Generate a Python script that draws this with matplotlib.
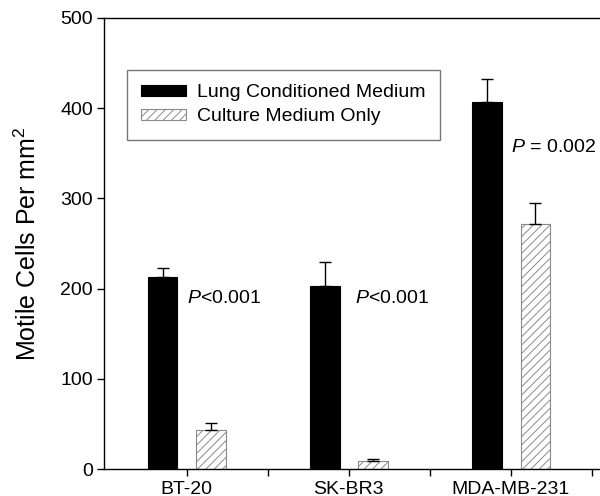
import numpy as np
import matplotlib
matplotlib.use("Agg")
import matplotlib.pyplot as plt

plt.rcParams['font.family'] = ['Liberation Sans', 'DejaVu Sans']
plt.rcParams['mathtext.fontset'] = 'custom'
plt.rcParams['mathtext.rm'] = 'Liberation Sans'
plt.rcParams['mathtext.it'] = 'Liberation Sans:italic'
plt.rcParams['hatch.color'] = '#8a8a8a'
plt.rcParams['hatch.linewidth'] = 0.7

lineas = ['BT-20', 'SK-BR3', 'MDA-MB-231']
pulmon = [213, 203, 407]
pulmon_err = [10, 27, 25]
cultivo = [43, 9, 272]
cultivo_err = [8, 2, 23]
p_textos = [r'$\it{P}$<0.001', r'$\it{P}$<0.001', r'$\it{P}$ = 0.002']
p_x = [0.5, 1.54, 2.5]
p_y = [189, 189, 356]

fig = plt.figure(figsize=(6, 4.96), dpi=100)
ax = fig.add_axes([104 / 600, 1 - 469 / 496, 496 / 600, 451 / 496])

x = np.arange(len(lineas)) + 0.5
ancho = 0.18
ax.bar(x - 0.147, pulmon, ancho, color='black', edgecolor='black', linewidth=0.8,
       label='Lung Conditioned Medium')
ax.bar(x + 0.15, cultivo, ancho, color='white', edgecolor='#8a8a8a', linewidth=0.8,
       hatch='////', label='Culture Medium Only')
ax.errorbar(x - 0.147, pulmon, yerr=[np.zeros(3), pulmon_err], fmt='none',
            ecolor='black', elinewidth=1, capsize=4, capthick=1)
ax.errorbar(x + 0.15, cultivo, yerr=[np.zeros(3), cultivo_err], fmt='none',
            ecolor='black', elinewidth=1, capsize=4, capthick=1)

for t, px, py in zip(p_textos, p_x, p_y):
    ax.text(px, py, t, fontsize=14, ha='left', va='center')

ax.set_xlim(-0.01, 3.05)
ax.set_ylim(0, 500)
ax.set_xticks(x)
ax.set_xticklabels(lineas, fontsize=14)
ax.set_xticks([1, 2, 3], minor=True)
ax.set_yticks([0, 100, 200, 300, 400, 500])
ax.tick_params(axis='both', which='both', direction='out', length=5, width=1, labelsize=14)
ax.tick_params(axis='y', pad=3)
ax.set_ylabel('Motile Cells Per mm$^2$', fontsize=18, labelpad=14)
ax.spines['right'].set_visible(False)
for s in ['left', 'bottom', 'top']:
    ax.spines[s].set_linewidth(1)

leg = ax.legend(loc='upper left', bbox_to_anchor=(0.046, 0.885), borderaxespad=0,
                fontsize=14, fancybox=False, edgecolor='#777777', framealpha=1,
                handlelength=2.3, handleheight=0.55, labelspacing=0.35,
                borderpad=0.75, handletextpad=0.55)
leg.get_frame().set_linewidth(1)

fig.savefig('out.png', dpi=100)
